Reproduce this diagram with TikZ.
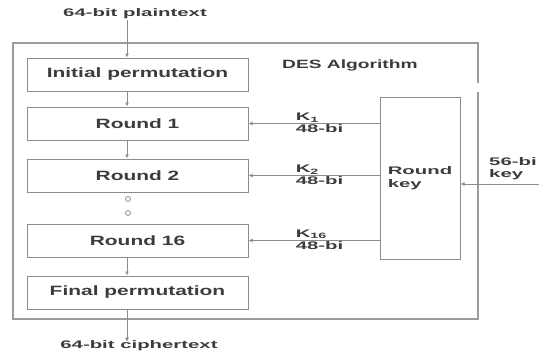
\documentclass[tikz,border=0pt]{standalone}
\usepackage{fontspec}
\setmainfont{Liberation Sans}
\usepackage{graphicx}
\usetikzlibrary{arrows.meta,positioning}
\definecolor{boxgray}{RGB}{140,140,140}
\definecolor{framegray}{RGB}{155,155,155}
\definecolor{inkgray}{RGB}{60,60,60}
\newcommand{\widebig}[1]{\scalebox{1.55}[1]{#1}}
\newcommand{\widesmall}[1]{\scalebox{1.85}[1]{#1}}
\tikzset{
  stage/.style={rectangle, draw=boxgray, line width=1pt, minimum width=221pt, minimum height=33pt,
                inner sep=0pt, font=\fontsize{13.5}{15}\selectfont\bfseries, text=inkgray},
  keybox/.style={stage, minimum width=80pt, minimum height=162pt, font=\fontsize{11}{13}\selectfont\bfseries},
  tag/.style={font=\fontsize{11}{12}\selectfont\bfseries, text=inkgray, inner sep=1pt},
  flow/.style={-{Latex[length=4pt,width=4pt]}, line width=0.9pt, boxgray},
  frame/.style={line width=1.3pt, framegray},
  gapdot/.style={circle, draw=boxgray, line width=0.8pt, minimum size=5pt, inner sep=0pt},
}

\begin{document}
\begin{tikzpicture}[x=1pt, y=-1pt]
\useasboundingbox (0,0) rectangle (539,354);

% outer frame of the algorithm
\draw[frame] (478,83) -- (478,43) -- (13,43) -- (13,319) -- (478,319) -- (478,92);
\node[tag, anchor=west, font=\fontsize{12}{13}\selectfont\bfseries] (title) at (281,65) {\scalebox{1.6}[1]{DES Algorithm}};

% left column
\node[stage] (init) at (137.5,74.5) {\widebig{Initial permutation}};
\node[stage, below=15pt of init] (r1) {\widebig{Round 1}};
\node[stage, below=18pt of r1] (r2) {\widebig{Round 2}};
\node[stage, below=31pt of r2] (r16) {\widebig{Round 16}};
\node[stage, below=18pt of r16] (final) {\widebig{Final permutation}};

\node[gapdot] (dot1) at (128,199) {};
\node[gapdot] (dot2) at (128,213) {};

\node[tag] (plain) at (135,14) {\widesmall{64-bit plaintext}};
\node[tag] (cipher) at (139,346) {\widesmall{64-bit ciphertext}};

\draw[flow] ([xshift=-8pt]plain.south) -- ([xshift=-10.5pt]init.north);
\draw[flow] ([xshift=-10.5pt]init.south) -- ([xshift=-10.5pt]r1.north);
\draw[flow] ([xshift=-10.5pt]r1.south) -- ([xshift=-10.5pt]r2.north);
\draw[flow] ([xshift=-10.5pt]r16.south) -- ([xshift=-10.5pt]final.north);
\draw[flow] ([xshift=-10.5pt]final.south) -- ([xshift=-12pt,yshift=-2pt]cipher.north);

% round key generator
\node[keybox] (key) at (420,178) {\widesmall{\begin{tabular}{@{}l@{}}Round\\key\end{tabular}}};

\draw[flow] (key.west |- r1.east) -- node[pos=0.65, anchor=south west, tag] {\widesmall{K\textsubscript{1}}}
  node[pos=0.65, anchor=north west, tag] {\widesmall{48-bi}} (r1.east);
\draw[flow] (key.west |- r2.east) -- node[pos=0.65, anchor=south west, tag] {\widesmall{K\textsubscript{2}}}
  node[pos=0.65, anchor=north west, tag] {\widesmall{48-bi}} (r2.east);
\draw[flow] (key.west |- r16.east) -- node[pos=0.65, anchor=south west, tag] {\widesmall{K\textsubscript{16}}}
  node[pos=0.65, anchor=north west, tag] {\widesmall{48-bi}} (r16.east);

\coordinate (keyin) at (539,184);
\draw[flow] (keyin) -- (keyin -| key.east);
\node[tag, anchor=south west] (keylab) at (488,182) {\widesmall{\begin{tabular}{@{}l@{}}56-bi\\key\end{tabular}}};
\end{tikzpicture}
\end{document}
